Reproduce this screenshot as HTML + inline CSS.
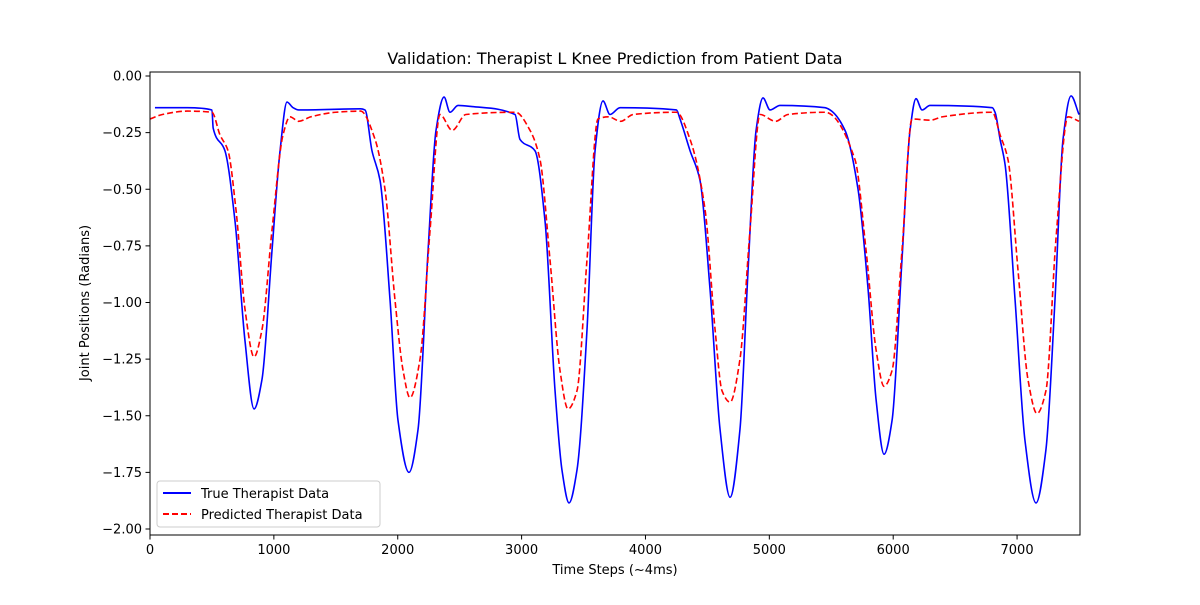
<!DOCTYPE html>
<html><head><meta charset="utf-8"><style>
body{margin:0;background:#fff;}
svg text{font-family:"DejaVu Sans","Liberation Sans",sans-serif;fill:#000;}
</style></head><body>
<svg id="chart" width="1200" height="600" xmlns="http://www.w3.org/2000/svg">
<rect width="1200" height="600" fill="#fff"/>
<text x="615" y="64" font-size="16" text-anchor="middle">Validation: Therapist L Knee Prediction from Patient Data</text>
<g id="ticks"></g>
<defs><clipPath id="clip"><rect x="150" y="72" width="930" height="463"/></clipPath></defs>
<g id="series" clip-path="url(#clip)"></g>
<rect x="150" y="72" width="930" height="463" fill="none" stroke="#000" stroke-width="1"/>
<text x="615" y="574" font-size="13" text-anchor="middle">Time Steps (~4ms)</text>
<text transform="translate(89,303) rotate(-90)" font-size="13" text-anchor="middle">Joint Positions (Radians)</text>
<g>
<rect x="157" y="481" width="223" height="46" rx="3" fill="#fff" fill-opacity="0.8" stroke="#ccc"/>
<line x1="163" y1="493" x2="191" y2="493" stroke="#0000ff" stroke-width="2"/>
<text x="201" y="498" font-size="13">True Therapist Data</text>
<line x1="163" y1="514" x2="191" y2="514" stroke="#ff0000" stroke-width="2" stroke-dasharray="6,3"/>
<text x="201" y="519" font-size="13">Predicted Therapist Data</text>
</g>
</svg>
<script>
const xTicks=[0,1000,2000,3000,4000,5000,6000,7000];
const yTicks=[0,-0.25,-0.5,-0.75,-1.0,-1.25,-1.5,-1.75,-2.0];
const trueT=[40,100,300,500,510,605,686,767,840,904,985,1050,1106,1155,1200,1700,1736,1792,1857,1938,2002,2091,2164,2245,2309,2374,2422,2487,2600,2947,2987,3108,3189,3270,3326,3383,3447,3528,3593,3657,3714,3795,4250,4279,4360,4440,4521,4602,4683,4763,4828,4893,4949,5006,5086,5450,5490,5611,5716,5797,5862,5926,5991,6071,6136,6184,6233,6297,6800,6822,6863,6903,6984,7064,7153,7233,7306,7371,7436,7500];
const trueV=[-0.14,-0.14,-0.14,-0.15,-0.23,-0.33,-0.64,-1.17,-1.47,-1.34,-0.77,-0.33,-0.115,-0.14,-0.15,-0.145,-0.15,-0.33,-0.46,-0.99,-1.52,-1.75,-1.56,-0.77,-0.24,-0.093,-0.16,-0.13,-0.135,-0.17,-0.28,-0.33,-0.64,-1.39,-1.74,-1.885,-1.74,-1.12,-0.33,-0.11,-0.17,-0.14,-0.15,-0.19,-0.33,-0.46,-0.94,-1.56,-1.86,-1.56,-0.86,-0.24,-0.097,-0.15,-0.13,-0.14,-0.15,-0.24,-0.50,-0.94,-1.43,-1.67,-1.52,-0.81,-0.24,-0.10,-0.15,-0.13,-0.14,-0.16,-0.28,-0.39,-0.99,-1.61,-1.885,-1.65,-0.99,-0.28,-0.088,-0.17];
const predT=[0,100,300,500,565,630,694,767,840,904,985,1074,1130,1200,1300,1500,1700,1817,1897,1978,2043,2099,2180,2261,2341,2440,2550,2950,3068,3149,3229,3310,3375,3447,3528,3617,3700,3800,3900,4250,4360,4481,4562,4618,4683,4763,4844,4925,5050,5150,5450,5692,5781,5862,5926,5991,6071,6152,6300,6400,6800,6863,6927,7008,7088,7161,7233,7314,7411,7500];
const predV=[-0.19,-0.17,-0.155,-0.16,-0.26,-0.33,-0.59,-1.03,-1.24,-1.12,-0.68,-0.26,-0.18,-0.2,-0.18,-0.16,-0.155,-0.28,-0.50,-0.99,-1.30,-1.42,-1.25,-0.68,-0.17,-0.24,-0.17,-0.16,-0.24,-0.37,-0.81,-1.30,-1.47,-1.39,-0.81,-0.19,-0.18,-0.2,-0.17,-0.16,-0.28,-0.59,-1.12,-1.39,-1.44,-1.25,-0.68,-0.17,-0.2,-0.17,-0.16,-0.37,-0.77,-1.21,-1.37,-1.30,-0.77,-0.19,-0.195,-0.18,-0.16,-0.26,-0.37,-0.86,-1.34,-1.49,-1.39,-0.72,-0.18,-0.2];
const X=t=>150+t*(929/7500);
const Y=v=>76-v*226.5;
const NS="http://www.w3.org/2000/svg";
const tg=document.getElementById('ticks');
function mk(tag,attrs,parent){const e=document.createElementNS(NS,tag);for(const k in attrs)e.setAttribute(k,attrs[k]);parent.appendChild(e);return e;}
xTicks.forEach(t=>{
  const l=mk('line',{x1:X(t),x2:X(t),y1:535,y2:539.5,stroke:'#000'},tg);
  
  
  const tx=mk('text',{x:X(t),y:554,'font-size':13,'text-anchor':'middle'},tg);
  tx.textContent=String(t);
  
  
});
yTicks.forEach(v=>{
  const l=mk('line',{x1:145.5,x2:150,y1:Y(v),y2:Y(v),stroke:'#000'},tg);
  
  
  const tx=mk('text',{x:142,y:Y(v)+4.5,'font-size':13,'text-anchor':'end'},tg);
  tx.textContent=(v<0?'\u2212':'')+Math.abs(v).toFixed(2);
  
  
});
function pathD(ts,vs){
  const xs=ts.map(X),ys=vs.map(Y),n=xs.length;
  const h=[],s=[];
  for(let i=0;i<n-1;i++){h.push(xs[i+1]-xs[i]);s.push((ys[i+1]-ys[i])/h[i]);}
  const m=new Array(n);
  m[0]=s[0];m[n-1]=s[n-2];
  for(let i=1;i<n-1;i++){
    if(s[i-1]*s[i]<=0){m[i]=0;}
    else{const w1=2*h[i]+h[i-1],w2=h[i]+2*h[i-1];m[i]=(w1+w2)/(w1/s[i-1]+w2/s[i]);}
  }
  let d='M'+xs[0]+','+ys[0];
  for(let i=0;i<n-1;i++){
    const dx=h[i]/3;
    d+=` C${xs[i]+dx},${ys[i]+m[i]*dx} ${xs[i+1]-dx},${ys[i+1]-m[i+1]*dx} ${xs[i+1]},${ys[i+1]}`;
  }
  return d;
}
const sg=document.getElementById('series');
const tl=mk('path',{d:pathD(trueT,trueV),fill:'none',stroke:'#0000ff','stroke-width':1.6},sg);


const pl=mk('path',{d:pathD(predT,predV),fill:'none',stroke:'#ff0000','stroke-width':1.6,'stroke-dasharray':'6,3'},sg);


</script>
</body></html>
